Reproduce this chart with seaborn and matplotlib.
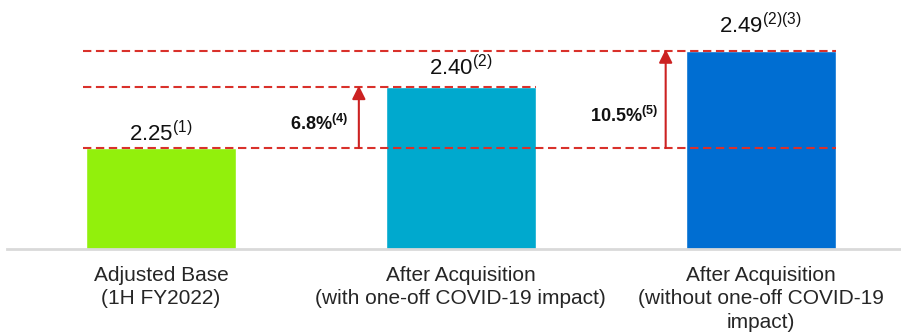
import pandas as pd
import matplotlib
matplotlib.use("Agg")
import matplotlib.pyplot as plt
import seaborn as sns

# Data
categories = ["Adjusted Base\n(1H FY2022)",
              "After Acquisition\n(with one-off COVID-19 impact)",
              "After Acquisition\n(without one-off COVID-19\nimpact)"]
values = [2.25, 2.40, 2.49]
value_notes = ["(1)", "(2)", "(2)(3)"]
growth_labels = ["6.8%", "10.5%"]
growth_notes = ["(4)", "(5)"]
colors = ["#92F00C", "#00A9CE", "#006ED2"]

sns.set_style("white")
plt.rcParams['font.family'] = ['Liberation Sans', 'DejaVu Sans']
plt.rcParams['mathtext.fontset'] = 'custom'
plt.rcParams['mathtext.rm'] = 'Liberation Sans'
plt.rcParams['mathtext.bf'] = 'Liberation Sans:bold'

data = pd.DataFrame({"Category": categories, "Value": values})

fig = plt.figure(figsize=(9.01, 3.33), dpi=100)
ax = fig.add_axes([0.0078, 0.2523, 0.992, 0.7477])
sns.barplot(x="Category", y="Value", data=data, hue="Category",
            palette=colors, width=0.5, legend=False, ax=ax, saturation=1)

ax.set_ylim(2.0, 2.616)
ax.set_xlim(-0.513, 2.467)

# dashed reference lines
red = "#D9312B"
line_ends = [2.25, 1.25, 2.25]
for v, end in zip(values, line_ends):
    ln = ax.hlines(v, -0.26, end, colors=red, linewidth=1.5, linestyles="--")
    ln.set_dashes([(0, (4, 2.2))])

# value labels
offsets = [1.5, 5, 9]
for i, (v, note, off) in enumerate(zip(values, value_notes, offsets)):
    ax.annotate(f"{v:.2f}$^{{{note}}}$", xy=(i, v), xytext=(0, off),
                textcoords="offset points", ha="center", va="bottom",
                fontsize=16, color="#111111")

# growth arrows
arrow_x = [0.66, 1.683]
label_x = [0.623, 1.657]
label_y = [2.31, 2.33]
for k in range(2):
    ax.annotate("", xy=(arrow_x[k], values[k + 1] + 0.004), xytext=(arrow_x[k], values[0]),
                arrowprops=dict(arrowstyle="-|>", color="#CC2222", lw=1.5,
                                mutation_scale=20, shrinkA=0, shrinkB=0))
    ax.text(label_x[k], label_y[k], growth_labels[k] + "$\\mathbf{^{" + growth_notes[k] + "}}$",
            ha="right", va="center", fontsize=13, fontweight="bold", color="#111111")

# axes styling
for s in ["top", "right", "left"]:
    ax.spines[s].set_visible(False)
ax.spines["bottom"].set_color("#D9D9D9")
ax.spines["bottom"].set_linewidth(2)
ax.set_yticks([])
ax.set_xlabel("")
ax.set_ylabel("")
ax.tick_params(axis="x", length=0, pad=12, labelsize=15)
for t in ax.get_xticklabels():
    t.set_linespacing(1.3)

plt.savefig("out.png", dpi=100)
